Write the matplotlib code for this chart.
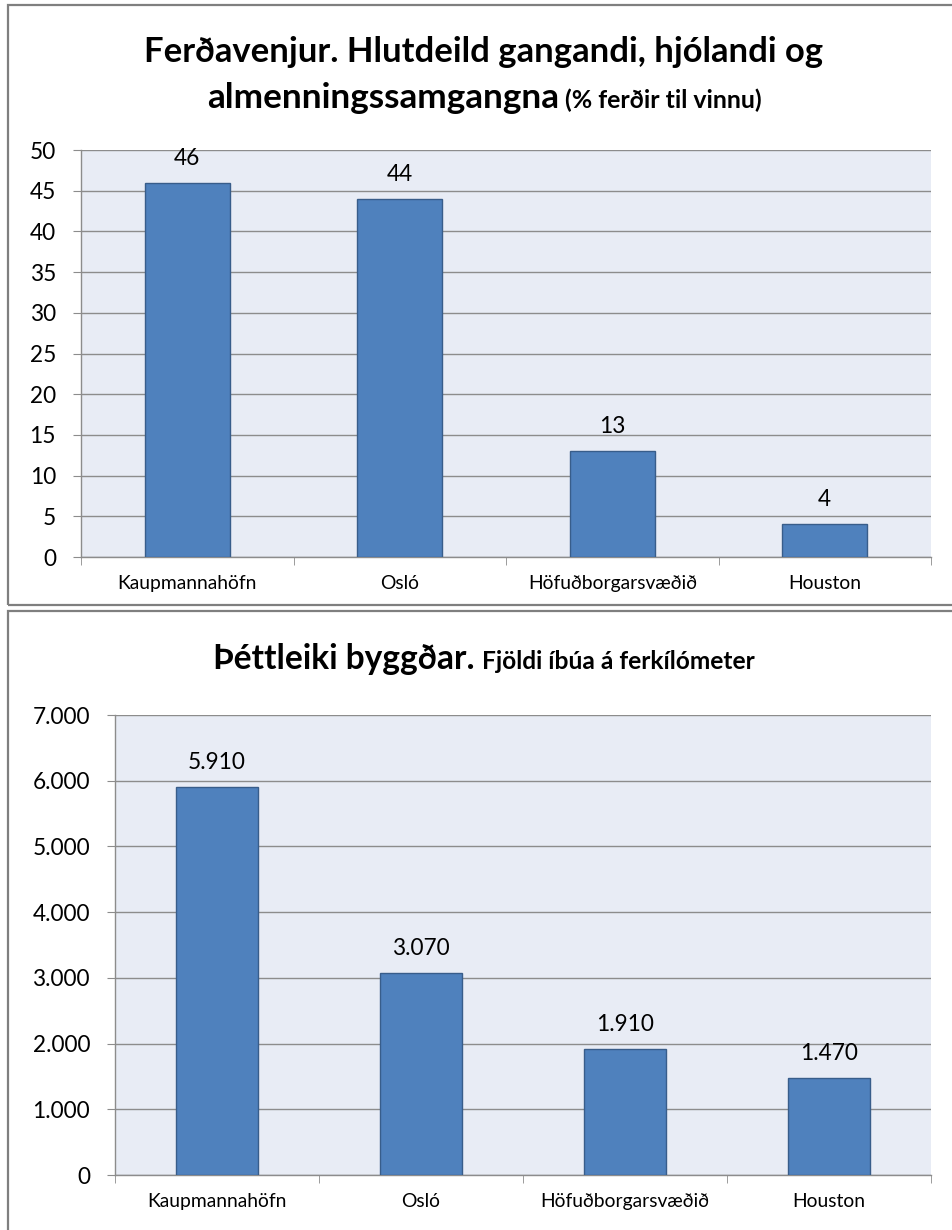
import matplotlib
matplotlib.use("Agg")
import matplotlib.pyplot as plt
from matplotlib.patches import Rectangle
from matplotlib.ticker import FuncFormatter, FixedLocator

plt.rcParams['font.family'] = ['Lato', 'DejaVu Sans']

categories = ["Kaupmannahöfn", "Osló", "Höfuðborgarsvæðið", "Houston"]
share_values = [46, 44, 13, 4]
density_values = [5910, 3070, 1910, 1470]
share_ticks = [0, 5, 10, 15, 20, 25, 30, 35, 40, 45, 50]
density_ticks = [0, 1000, 2000, 3000, 4000, 5000, 6000, 7000]

W, H = 952, 1230
fig = plt.figure(figsize=(W / 100, H / 100), dpi=100)
renderer = fig.canvas.get_renderer()

BAR = "#4F81BD"
EDGE = "#385D8A"
BG = "#E8ECF5"
GRID = "#8C8C8C"


def text_width(s, size, weight='normal'):
    t = fig.text(0, 0, s, fontsize=size, fontweight=weight)
    w = t.get_window_extent(renderer).width
    t.remove()
    return w


def fit_size(s, target_px, weight='normal', base=20.0):
    return base * target_px / text_width(s, base, weight)


def fmt_dot(v, pos=None):
    return f"{int(v):,}".replace(",", ".")


# sizes fitted to the reference's measured text widths
num_size = fit_size("7.000", 58)
cat_size = fit_size("Kaupmannahöfn", 140)

# panel borders
for (x0, y0, x1, y1) in [(8, 5, 960, 605), (8, 611, 960, 1240)]:
    fig.patches.append(Rectangle((x0 / W, 1 - y1 / H), (x1 - x0) / W, (y1 - y0) / H,
                                 transform=fig.transFigure, fill=False,
                                 edgecolor="#7F7F7F", linewidth=1.6))


def make_ax(px_left, px_right, px_top, px_bottom, values, ticks, fmt, label_fmt):
    ax = fig.add_axes([px_left / W, 1 - px_bottom / H, (px_right - px_left) / W,
                       (px_bottom - px_top) / H])
    ax.set_facecolor(BG)
    x = list(range(len(values)))
    ax.bar(x, values, width=0.40, color=BAR, edgecolor=EDGE, linewidth=1.0, zorder=3)
    ax.set_xlim(-0.5, len(values) - 0.5)
    ax.set_ylim(ticks[0], ticks[-1])
    ax.set_yticks(ticks)
    ax.yaxis.set_major_formatter(FuncFormatter(fmt))
    ax.grid(axis='y', color=GRID, linewidth=1.0, zorder=1)
    ax.set_axisbelow(True)
    for s in ['top', 'right']:
        ax.spines[s].set_visible(False)
    for s in ['left', 'bottom']:
        ax.spines[s].set_color(GRID)
        ax.spines[s].set_linewidth(1.0)
    ax.tick_params(axis='y', length=6, color=GRID, labelsize=num_size, pad=12,
                   labelcolor='black')
    ax.set_xticks(x)
    ax.set_xticklabels(categories, fontsize=cat_size)
    ax.tick_params(axis='x', which='major', length=0, pad=13)
    ax.xaxis.set_minor_locator(FixedLocator([i - 0.5 for i in range(len(values) + 1)]))
    ax.tick_params(axis='x', which='minor', length=6, color=GRID, direction='out')
    for xi, v in zip(x, values):
        ax.annotate(label_fmt(v), (xi, v), xytext=(0, 13), textcoords='offset points',
                    ha='center', va='baseline', fontsize=num_size, zorder=4)
    return ax


make_ax(81, 931, 150, 557, share_values, share_ticks, lambda v, p=None: f"{int(v)}",
        lambda v: f"{v}")
make_ax(115, 931, 715, 1175, density_values, density_ticks, fmt_dot, fmt_dot)


def two_part_title(big, small, cx, y_px, big_w, small_w, gap):
    bs = fit_size(big, big_w, 'bold')
    ss = fit_size(small, small_w, 'bold')
    t1 = fig.text(0, 1 - y_px / H, big, fontsize=bs, fontweight='bold',
                  ha='left', va='baseline')
    t2 = fig.text(0, 1 - y_px / H, small, fontsize=ss, fontweight='bold',
                  ha='left', va='baseline')
    w1 = t1.get_window_extent(renderer).width
    w2 = t2.get_window_extent(renderer).width
    x0 = cx - (w1 + gap + w2) / 2
    t1.set_x(x0 / W)
    t2.set_x((x0 + w1 + gap) / W)


line1 = "Ferðavenjur. Hlutdeild gangandi, hjólandi og"
fig.text(484 / W, 1 - 62 / H, line1, fontsize=fit_size(line1, 678, 'bold'),
         fontweight='bold', ha='center', va='baseline')
two_part_title("almenningssamgangna", "(% ferðir til vinnu)", 484, 108, 351, 197, 6)
two_part_title("Þéttleiki byggðar.", "Fjöldi íbúa á ferkílómeter", 484, 669, 262, 273, 7)

fig.savefig("out.png", dpi=100)
